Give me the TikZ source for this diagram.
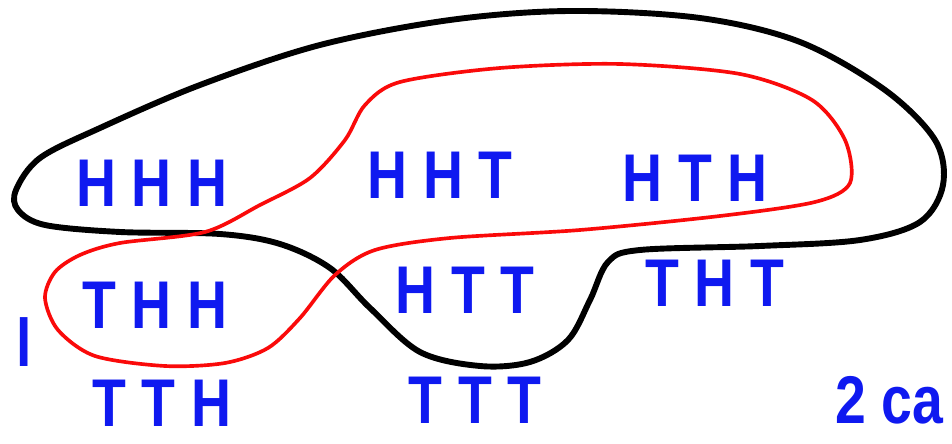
\documentclass[tikz,border=0pt]{standalone}
\usepackage{fontspec}
\usepackage{graphicx}
\setmainfont{Liberation Sans}
\definecolor{inkblue}{RGB}{15,25,240}
\definecolor{inkred}{RGB}{250,10,10}
\newcommand{\handtxt}[1]{\scalebox{0.82}[1]{#1}}
\begin{document}
\begin{tikzpicture}[x=0.025cm,y=-0.025cm,
  lbl/.style={text=inkblue,font=\fontsize{48}{48}\selectfont\bfseries,inner sep=0pt},
  blackloop/.style={draw=black,line width=4.2pt,line join=round},
  redloop/.style={draw=inkred,line width=2.6pt,line join=round}]
\useasboundingbox (0,0) rectangle (952,444);
\clip (0,0) rectangle (952,444);
\fill[white] (0,0) rectangle (952,444);
% black outcome set
\draw[blackloop] plot[smooth cycle,tension=0.55] coordinates {
 (16,190) (40,158) (100,128) (200,85) (320,45) (450,20) (570,11) (700,18)
 (800,42) (885,90) (935,140) (943,185) (920,222) (860,240) (760,246)
 (640,250) (608,262) (590,300) (568,340) (530,362) (480,366) (420,352)
 (370,308) (330,268) (280,244) (220,234) (120,232) (45,225) (18,210)};
% red outcome set
\draw[redloop] plot[smooth cycle,tension=0.5] coordinates {
 (205,232) (260,205) (310,178) (345,140) (365,105) (400,82) (500,68)
 (620,64) (740,74) (812,100) (845,140) (850,183) (815,202) (720,216)
 (580,230) (450,238) (375,250) (335,275) (300,318) (268,348) (225,363)
 (165,366) (95,356) (58,330) (45,298) (55,272) (80,255) (120,243)};
% outcomes
\node[lbl] (hhh) at (152,183) {\handtxt{H H H}};
\node[lbl] (hht) at (440,175) {\handtxt{H H T}};
\node[lbl] (hth) at (695,178) {\handtxt{H T H}};
\node[lbl] (thh) at (155,305) {\handtxt{T H H}};
\node[lbl] (htt) at (465,290) {\handtxt{H T T}};
\node[lbl] (tht) at (715,283) {\handtxt{T H T}};
\node[lbl] (tth) at (162,403) {\handtxt{T T H}};
\node[lbl] (ttt) at (475,400) {\handtxt{T T T}};
\node[lbl,anchor=west] (twoca) at (835,400) {\handtxt{2 ca}};
\node[lbl,anchor=east] (leftmark) at (32,342) {\handtxt{l}};
\end{tikzpicture}
\end{document}
